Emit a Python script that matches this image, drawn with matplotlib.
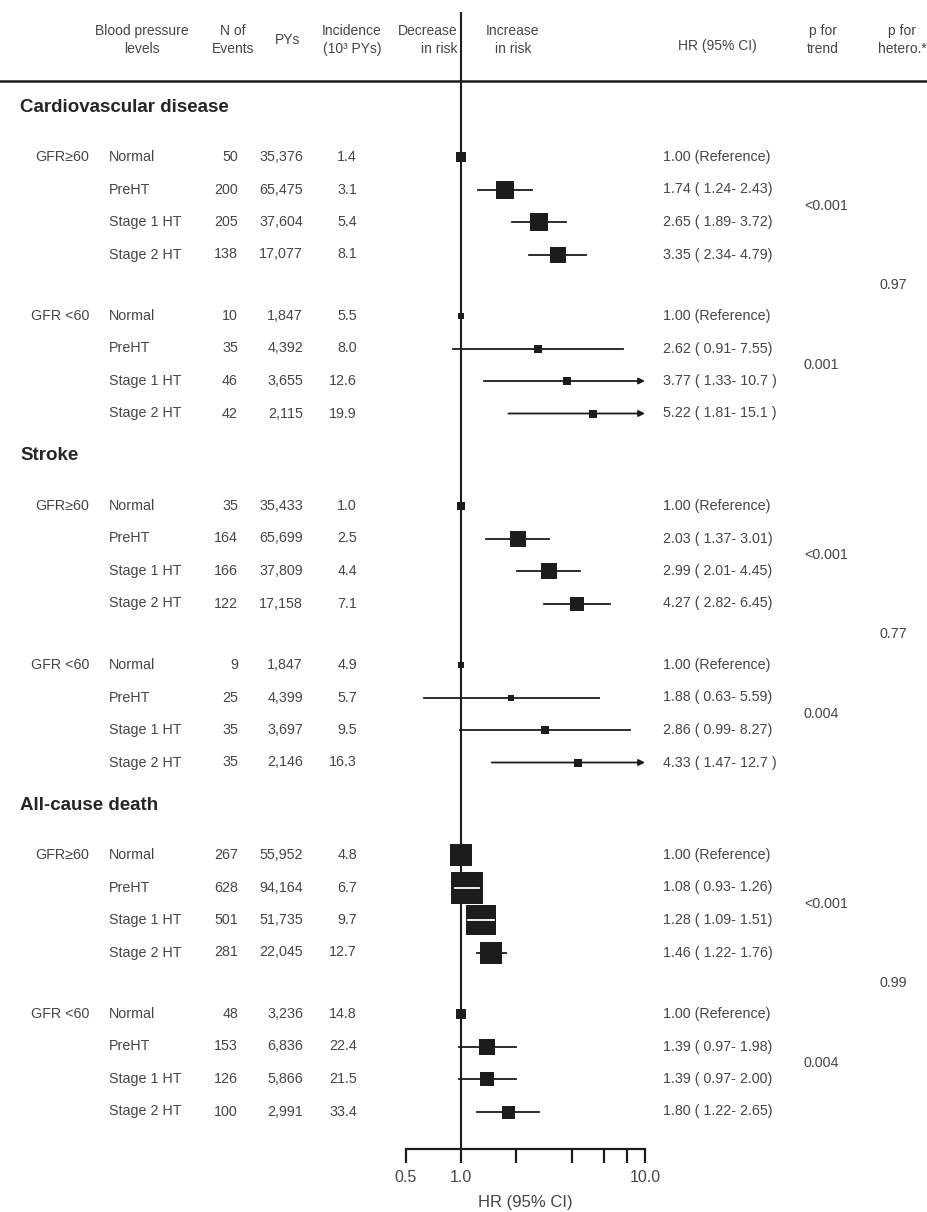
import matplotlib.pyplot as plt
import numpy as np

W, H = 927, 1212
nan = np.nan

outcomes = ['Cardiovascular disease', 'Stroke', 'All-cause death']
gfr_groups = ['GFR\u226560', 'GFR <60']
bp_levels = ['Normal', 'PreHT', 'Stage 1 HT', 'Stage 2 HT']

# per outcome: GFR>=60 (4 levels) then GFR<60 (4 levels)
events = [[50, 200, 205, 138, 10, 35, 46, 42],
          [35, 164, 166, 122, 9, 25, 35, 35],
          [267, 628, 501, 281, 48, 153, 126, 100]]
pys = [[35376, 65475, 37604, 17077, 1847, 4392, 3655, 2115],
       [35433, 65699, 37809, 17158, 1847, 4399, 3697, 2146],
       [55952, 94164, 51735, 22045, 3236, 6836, 5866, 2991]]
incidence = [[1.4, 3.1, 5.4, 8.1, 5.5, 8.0, 12.6, 19.9],
             [1.0, 2.5, 4.4, 7.1, 4.9, 5.7, 9.5, 16.3],
             [4.8, 6.7, 9.7, 12.7, 14.8, 22.4, 21.5, 33.4]]
hr = [[1.00, 1.74, 2.65, 3.35, 1.00, 2.62, 3.77, 5.22],
      [1.00, 2.03, 2.99, 4.27, 1.00, 1.88, 2.86, 4.33],
      [1.00, 1.08, 1.28, 1.46, 1.00, 1.39, 1.39, 1.80]]
ci_lo = [[nan, 1.24, 1.89, 2.34, nan, 0.91, 1.33, 1.81],
         [nan, 1.37, 2.01, 2.82, nan, 0.63, 0.99, 1.47],
         [nan, 0.93, 1.09, 1.22, nan, 0.97, 0.97, 1.22]]
ci_hi = [[nan, 2.43, 3.72, 4.79, nan, 7.55, 10.7, 15.1],
         [nan, 3.01, 4.45, 6.45, nan, 5.59, 8.27, 12.7],
         [nan, 1.26, 1.51, 1.76, nan, 1.98, 2.00, 2.65]]
p_trend = [['<0.001', '0.001'], ['<0.001', '0.004'], ['<0.001', '0.004']]
p_hetero = ['0.97', '0.77', '0.99']

xticks = [0.5, 1, 2, 4, 6, 8, 10]
xticklabels = ['0.5', '1.0', '', '', '', '', '10.0']

FONT = ['Liberation Sans', 'DejaVu Sans']
TXT = '#454545'
INK = '#1c1c1c'
plt.rcParams['font.family'] = FONT

fig = plt.figure(figsize=(W / 100, H / 100), dpi=100)
bg = fig.add_axes([0, 0, 1, 1])
bg.set_xlim(0, W)
bg.set_ylim(H, 0)
bg.axis('off')

# forest panel: log x, y in figure pixels
x_half, x_ten = 405.6, 645.0
ax = fig.add_axes([x_half / W, 0, (x_ten - x_half) / W, 1])
ax.set_xscale('log')
ax.set_xlim(0.5, 10)
ax.set_ylim(H, 0)
ax.patch.set_alpha(0)
for s in ['top', 'right', 'left']:
    ax.spines[s].set_visible(False)
axis_y = 1149
ax.spines['bottom'].set_position(('data', axis_y))
ax.spines['bottom'].set_linewidth(1.6)
ax.spines['bottom'].set_color(INK)
ax.set_yticks([])
ax.set_xticks(xticks)
ax.set_xticklabels(xticklabels)
ax.minorticks_off()
ax.tick_params(axis='x', direction='out', length=10, width=1.6, color=INK,
               labelsize=11.5, labelcolor=TXT, pad=5)
ax.text(np.sqrt(0.5 * 10), 1203, 'HR (95% CI)', ha='center', va='center',
        fontsize=12, color=TXT)

# header
hdr = dict(fontsize=10, color=TXT, va='center', linespacing=1.3)
bg.text(142, 40, 'Blood pressure\nlevels', ha='center', **hdr)
bg.text(233, 40, 'N of\nEvents', ha='center', **hdr)
bg.text(288, 40, 'PYs', ha='center', **hdr)
bg.text(352, 40, 'Incidence\n(10\u00b3 PYs)', ha='center', **hdr)
bg.text(458, 40, 'Decrease\nin risk', ha='right', multialignment='right', **hdr)
bg.text(513, 40, 'Increase\nin risk', ha='center', **hdr)
bg.text(717, 46, 'HR (95% CI)', ha='center', **hdr)
bg.text(823, 40, 'p for\ntrend', ha='center', **hdr)
bg.text(902, 40, 'p for\nhetero.*', ha='center', **hdr)
bg.plot([0, W], [81, 81], color=INK, lw=1.8)

# reference line at HR = 1
ax.plot([1, 1], [13, axis_y], color=INK, lw=1.5, clip_on=False)

row_txt = dict(fontsize=10.3, color=TXT, va='center')
sec_top, sec_step, row_step = 107, 349, 32.5
for k, name in enumerate(outcomes):
    y_sec = sec_top + sec_step * k
    bg.text(20, y_sec, name, fontsize=13.5, fontweight='bold', color='#262626',
            va='center', ha='left')
    group_first = [y_sec + 50, y_sec + 209]
    for g, gname in enumerate(gfr_groups):
        y0 = group_first[g]
        bg.text(89, y0, gname, ha='right', **row_txt)
        for j, lvl in enumerate(bp_levels):
            i = g * 4 + j
            y = y0 + row_step * j
            bg.text(109, y, lvl, ha='left', **row_txt)
            bg.text(238, y, f'{events[k][i]}', ha='right', **row_txt)
            bg.text(303, y, f'{pys[k][i]:,}', ha='right', **row_txt)
            bg.text(357, y, f'{incidence[k][i]:.1f}', ha='right', **row_txt)

            h, lo, hi = hr[k][i], ci_lo[k][i], ci_hi[k][i]
            side = max(6.5, 1.3 * np.sqrt(events[k][i]))
            if np.isnan(lo):
                label = f'{h:.2f} (Reference)'
            else:
                fmt = lambda v: f'{v:.2f}' if v < 10 else f'{v:.1f} '
                label = f'{h:.2f} ( {fmt(lo)}- {fmt(hi)})'
                if hi > 10:
                    ax.annotate('', xy=(10, y), xytext=(lo, y),
                                arrowprops=dict(arrowstyle='-|>', lw=1.3, color=INK,
                                                mutation_scale=9, shrinkA=0, shrinkB=0),
                                annotation_clip=False)
                else:
                    ax.plot([lo, hi], [y, y], color=INK, lw=1.3, clip_on=False)
            ax.plot([h], [y], marker='s', ms=side * 0.72, color=INK, mec=INK,
                    mew=0, clip_on=False, zorder=3)
            if not np.isnan(lo):
                # CI fully inside the box is drawn in white
                cx = ax.transData.transform((h, y))[0]
                lx = ax.transData.transform((lo, y))[0]
                hx = ax.transData.transform((hi, y))[0]
                if lx >= cx - side / 2 and hx <= cx + side / 2:
                    ax.plot([lo, hi], [y, y], color='white', lw=1.3,
                            clip_on=False, zorder=4)
            bg.text(663, y, label, ha='left', **row_txt)
        y_last = y0 + row_step * 3
        bg.text(804, (y0 + y_last) / 2, p_trend[k][g], ha='left', **row_txt)
    y_mid = (group_first[0] + row_step * 3 + group_first[1]) / 2
    bg.text(880, y_mid, p_hetero[k], ha='left', **row_txt)

fig.savefig('out.png', dpi=100, facecolor='white')
